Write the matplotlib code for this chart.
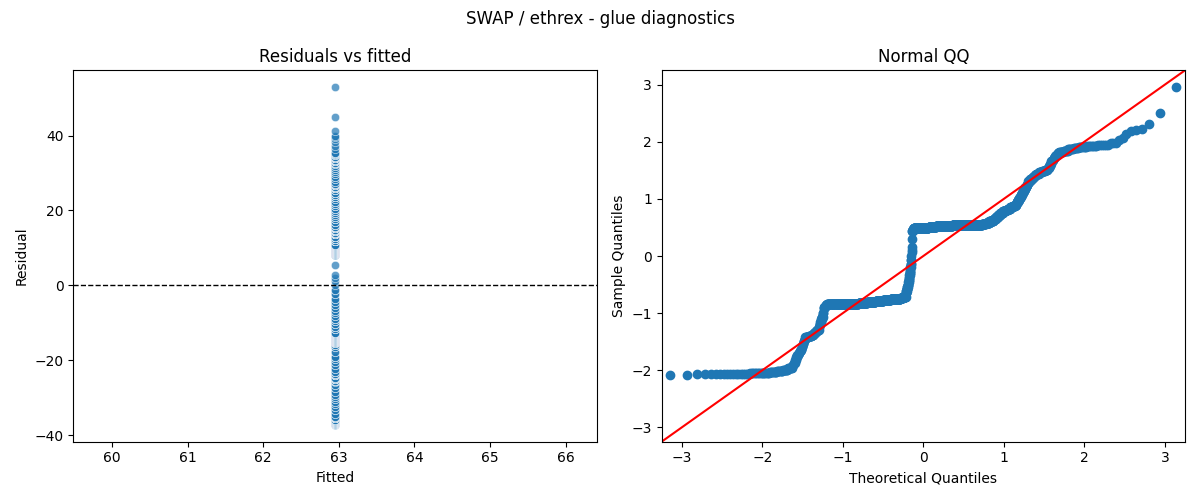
import matplotlib
matplotlib.use("Agg")
import matplotlib.pyplot as plt
import numpy as np
import seaborn as sns
from statistics import NormalDist

# valor ajustado (modelo só com intercepto)
fitted_value = 62.95

# níveis dos resíduos e quantas observações caem em cada um
resid_levels = [
    -37.2, -37.1, -37.0, -36.9, -36.8, -36.6, -36.4, -36.1, -35.8, -35.5, -35.0,
    -34.2, -33.3, -32.4, -31.7, -31.0, -30.4, -29.8, -29.2, -28.4, -27.5, -26.6, -25.8,
    -25.4, -25.0,
    -24.6, -24.0, -23.5, -23.0, -22.2, -21.3, -20.5, -19.7, -19.0, -17.8, -16.3, -15.8, -15.4,
    -15.1, -14.9, -14.8, -14.6, -14.4, -14.1, -13.8, -13.5, -13.3, -13.0, -12.6,
    -11.6, -11.0, -10.3, -9.6, -8.9, -8.1, -7.4,
    -6.8, -6.0, -5.2, -4.5, -3.5, -2.4, -1.2,
    0.0, 1.2, 2.1, 2.9, 5.5,
    8.0, 8.3, 8.5,
    8.7, 9.0, 9.3, 9.5, 9.6, 9.7, 9.8, 9.95, 10.2, 10.5, 10.9,
    11.8, 12.4, 13.0, 13.6, 14.1, 14.5, 14.9, 15.3, 15.7,
    16.2, 16.9, 17.6, 18.2, 18.7,
    19.2, 19.8, 20.5, 21.1, 21.8, 22.4, 23.0,
    23.5, 24.1, 24.8, 25.5, 25.9, 26.3, 26.7, 27.1,
    27.6, 28.3, 29.0, 29.7, 30.3, 30.8, 31.3, 31.8, 32.3,
    32.7, 33.1, 33.5, 33.9, 34.1, 34.4, 34.7, 35.0, 35.4,
    36.4, 37.1, 38.3, 39.1, 39.6, 40.0, 41.3, 44.9, 52.9,
]
resid_counts = [
    1, 1, 1, 7, 8, 7, 8, 8, 7, 7, 7,
    2, 2, 2, 2, 2, 2, 2, 2, 2, 2, 2, 1,
    7, 7,
    4, 5, 4, 4, 2, 2, 2, 2, 3, 2, 2, 3, 4,
    38, 38, 38, 39, 40, 40, 40, 39, 15, 15, 16,
    3, 3, 3, 3, 3, 2, 2,
    2, 2, 2, 2, 2, 2, 2,
    1, 1, 1, 1, 1,
    3, 3, 3,
    44, 44, 44, 44, 50, 50, 51, 51, 16, 16, 17,
    9, 9, 9, 9, 10, 8, 8, 8, 8,
    4, 4, 4, 3, 2,
    3, 3, 3, 3, 3, 3, 2,
    5, 5, 5, 4, 6, 6, 6, 5,
    2, 2, 2, 2, 2, 2, 2, 2, 2,
    6, 6, 6, 5, 7, 7, 3, 3, 3,
    1, 1, 1, 1, 1, 1, 1, 1, 1,
]

residuos = np.repeat(resid_levels, resid_counts)
ajustados = np.full(len(residuos), fitted_value)

# quantis para o QQ (como no statsmodels: fit=True, a=0)
amostra = np.sort((residuos - residuos.mean()) / residuos.std())
n = len(amostra)
nd = NormalDist()
teoricos = np.array([nd.inv_cdf(i / (n + 1)) for i in range(1, n + 1)])

fig, (ax1, ax2) = plt.subplots(1, 2, figsize=(12, 5), dpi=100)

sns.scatterplot(x=ajustados, y=residuos, alpha=0.7, ax=ax1)
ax1.axhline(0, color='black', linestyle='--', linewidth=1)
ax1.set_title('Residuals vs fitted')
ax1.set_xlabel('Fitted')
ax1.set_ylabel('Residual')

ax2.plot(teoricos, amostra, marker='o', linestyle='none', color='C0')
ax2.axline((0, 0), slope=1, color='red')
ax2.set_xlim(-3.25, 3.25)
ax2.set_ylim(-3.25, 3.25)
ax2.set_title('Normal QQ')
ax2.set_xlabel('Theoretical Quantiles')
ax2.set_ylabel('Sample Quantiles')

fig.suptitle('SWAP / ethrex - glue diagnostics')
plt.tight_layout()
plt.savefig('out.png')
